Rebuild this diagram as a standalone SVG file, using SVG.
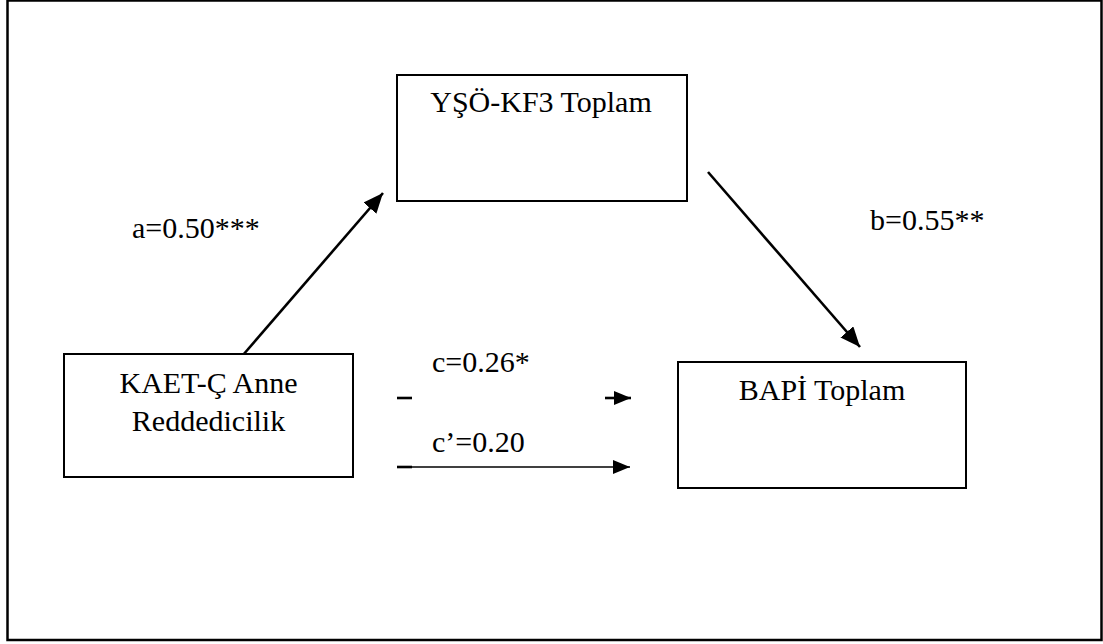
<svg xmlns="http://www.w3.org/2000/svg" width="1103" height="644" viewBox="0 0 1103 644">
<style>
.box{fill:#fff;stroke:#000;stroke-width:2}
.t{font-family:"Liberation Serif","Times New Roman",serif;font-size:30px;fill:#000}
.c{stroke:#000;fill:none}
</style>
<defs>
<marker id="ah" markerUnits="userSpaceOnUse" markerWidth="20" markerHeight="17" refX="20" refY="8.5" orient="auto">
<path d="M0,0 L20,8.5 L0,17 z" fill="#000"/>
</marker>
<marker id="ahs" markerUnits="userSpaceOnUse" markerWidth="17" markerHeight="14" refX="17" refY="7" orient="auto">
<path d="M0,0 L17,7 L0,14 z" fill="#000"/>
</marker>
</defs>
<rect x="7.5" y="0.5" width="1094" height="639.5" fill="#fff" stroke="#000" stroke-width="2.5"/>
<g id="connectors">
<line class="c" x1="243" y1="355" x2="383" y2="193" stroke-width="2.6" marker-end="url(#ah)"/>
<line class="c" x1="708" y1="172" x2="860" y2="347" stroke-width="2.6" marker-end="url(#ah)"/>
<line class="c" x1="397" y1="398" x2="412" y2="398" stroke-width="2.6"/>
<line class="c" x1="605" y1="398" x2="631" y2="398" stroke-width="2.6" marker-end="url(#ahs)"/>
<line class="c" x1="397" y1="467" x2="412" y2="467" stroke-width="2.6"/>
<line class="c" x1="397" y1="467" x2="630" y2="467" stroke-width="1.4" marker-end="url(#ahs)"/>
</g>
<g id="node-yso">
<rect class="box" x="397" y="75" width="290" height="126"/>
<text class="t" x="541" y="112" text-anchor="middle">YŞÖ-KF3 Toplam</text>
</g>
<g id="node-kaet">
<rect class="box" x="64" y="354" width="289" height="123"/>
<text class="t" x="208.5" y="393" text-anchor="middle">KAET-Ç Anne</text>
<text class="t" x="208.5" y="431" text-anchor="middle">Reddedicilik</text>
</g>
<g id="node-bapi">
<rect class="box" x="678" y="362" width="288" height="126"/>
<text class="t" x="822" y="400" text-anchor="middle">BAPİ Toplam</text>
</g>
<g id="labels">
<text class="t" x="132" y="238">a=0.50***</text>
<text class="t" x="870" y="230">b=0.55**</text>
<text class="t" x="432" y="372">c=0.26*</text>
<text class="t" x="432" y="452">c’=0.20</text>
</g>
</svg>
